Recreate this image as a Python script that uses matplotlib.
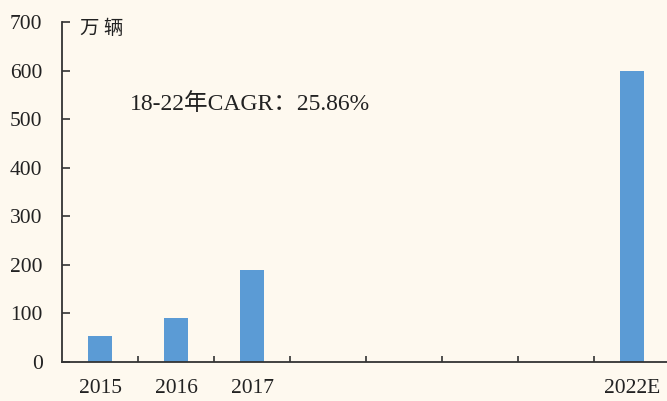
import matplotlib.pyplot as plt
import numpy as np

# data
years = ['2015', '2016', '2017', '2018', '2019', '2020', '2021', '2022E']
year_labels = ['2015', '2016', '2017', '', '', '', '', '2022E']
sales = [54, 90, 189, 0, 0, 0, 0, 600]

plt.rcParams['font.family'] = ['Liberation Serif', 'Noto Sans CJK SC']

bg = '#FEF9EF'
fig = plt.figure(figsize=(6.67, 4.01), dpi=100, facecolor=bg)
ax = fig.add_axes([0.093, 0.0973, 0.907, 0.848], facecolor=bg)

x = np.arange(len(years))
ax.bar(x, sales, width=0.32, color='#5B9BD5', zorder=2)

ax.set_xlim(-0.5, 7.46)
ax.set_ylim(0, 700)
ax.set_yticks(np.arange(0, 701, 100))

# category boundary ticks, labels on minor ticks
ax.set_xticks(np.arange(0.5, 7, 1))
ax.set_xticklabels([])
ax.set_xticks(x, minor=True)
ax.set_xticklabels(year_labels, minor=True)
ax.tick_params(axis='x', which='major', direction='in', length=4, width=1.2, color='#333333')
ax.tick_params(axis='x', which='minor', length=0, pad=12, labelsize=15.5, labelcolor='#222222')
ax.tick_params(axis='y', direction='in', length=6, width=1.2, color='#333333',
               pad=14, labelsize=15.5, labelcolor='#222222')

for s in ['top', 'right']:
    ax.spines[s].set_visible(False)
for s in ['left', 'bottom']:
    ax.spines[s].set_color('#333333')
    ax.spines[s].set_linewidth(1.3)

fig.text(80 / 667, 1 - 29 / 401, '万 辆', fontsize=14, color='#222222',
         family=['Noto Sans CJK SC'], va='center', ha='left')
fig.text(130 / 667, 1 - 104 / 401, '18-22年CAGR：25.86%', fontsize=17,
         color='#222222', va='center', ha='left')

fig.savefig('out.png', dpi=100, facecolor=bg)
